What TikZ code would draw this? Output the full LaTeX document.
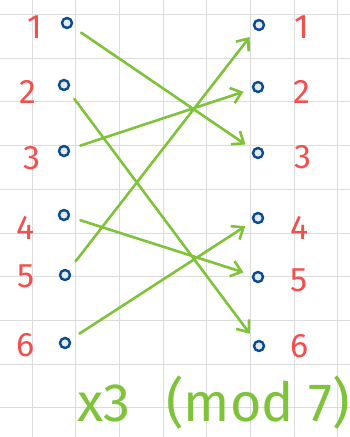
\documentclass[tikz,border=0pt]{standalone}
\usepackage{fontspec}
\setmainfont{Fira Sans}
\usetikzlibrary{arrows.meta}
\definecolor{gridc}{HTML}{DCDCDC}
\definecolor{dotc}{HTML}{0B4A8E}
\definecolor{dotfill}{HTML}{E4EAF2}
\definecolor{numc}{HTML}{F0504E}
\definecolor{arrc}{HTML}{7EC33A}
\tikzset{
  dot/.style={circle,draw=dotc,fill=dotfill,line width=2.4pt,minimum size=10pt,inner sep=0pt},
  num/.style={text=numc,font=\fontsize{34}{34}\selectfont,inner sep=0pt},
  captext/.style={text=arrc,font=\fontsize{54}{54}\selectfont,inner sep=0pt,anchor=base},
  maparrow/.style={draw=arrc,line width=2.6pt,line cap=round,shorten <=11pt,shorten >=9pt,
     -{Straight Barb[length=10pt,width=16pt,line width=2.6pt]}},
  gridline/.style={draw=gridc,line width=1pt}
}
\begin{document}
\begin{tikzpicture}[x=1pt,y=-1pt]
\useasboundingbox (0,0) rectangle (350,437);
\fill[white] (0,0) rectangle (350,437);
\foreach \k in {0,...,7} \draw[gridline] (32+43.7*\k,0) -- (32+43.7*\k,437);
\foreach \k in {0,...,9} \draw[gridline] (0,14.5+43.7*\k) -- (350,14.5+43.7*\k);
% left dots
\node[dot] (l1) at (67,23) {};
\node[dot] (l2) at (64,85) {};
\node[dot] (l3) at (64,151) {};
\node[dot] (l4) at (64,215) {};
\node[dot] (l5) at (65,275) {};
\node[dot] (l6) at (65,343) {};
% right dots
\node[dot] (r1) at (259,25) {};
\node[dot] (r2) at (258,87) {};
\node[dot] (r3) at (258,153) {};
\node[dot] (r4) at (258,218) {};
\node[dot] (r5) at (258,277) {};
\node[dot] (r6) at (259,346) {};
% labels
\node[num] (nl1) at (35,27) {1};
\node[num] (nl2) at (28,92) {2};
\node[num] (nl3) at (32,158) {3};
\node[num] (nl4) at (26,228) {4};
\node[num] (nl5) at (26,276) {5};
\node[num] (nl6) at (26,345) {6};
\node[num] (nr1) at (302,27) {1};
\node[num] (nr2) at (302,92) {2};
\node[num] (nr3) at (303,157) {3};
\node[num] (nr4) at (300,228) {4};
\node[num] (nr5) at (299,280) {5};
\node[num] (nr6) at (300,346) {6};
% arrows
\draw[maparrow] (l1) -- (r3);
\draw[maparrow] (l2) -- (r6);
\draw[maparrow] (l3) -- (r2);
\draw[maparrow] (l4) -- (r5);
\draw[maparrow] (l5) -- (r1);
\draw[maparrow] (l6) -- (r4);
% caption
\node[captext] (capa) at (104,421) {x3};
\node[captext] (capb) at (258,421) {(mod 7)};
\end{tikzpicture}
\end{document}
